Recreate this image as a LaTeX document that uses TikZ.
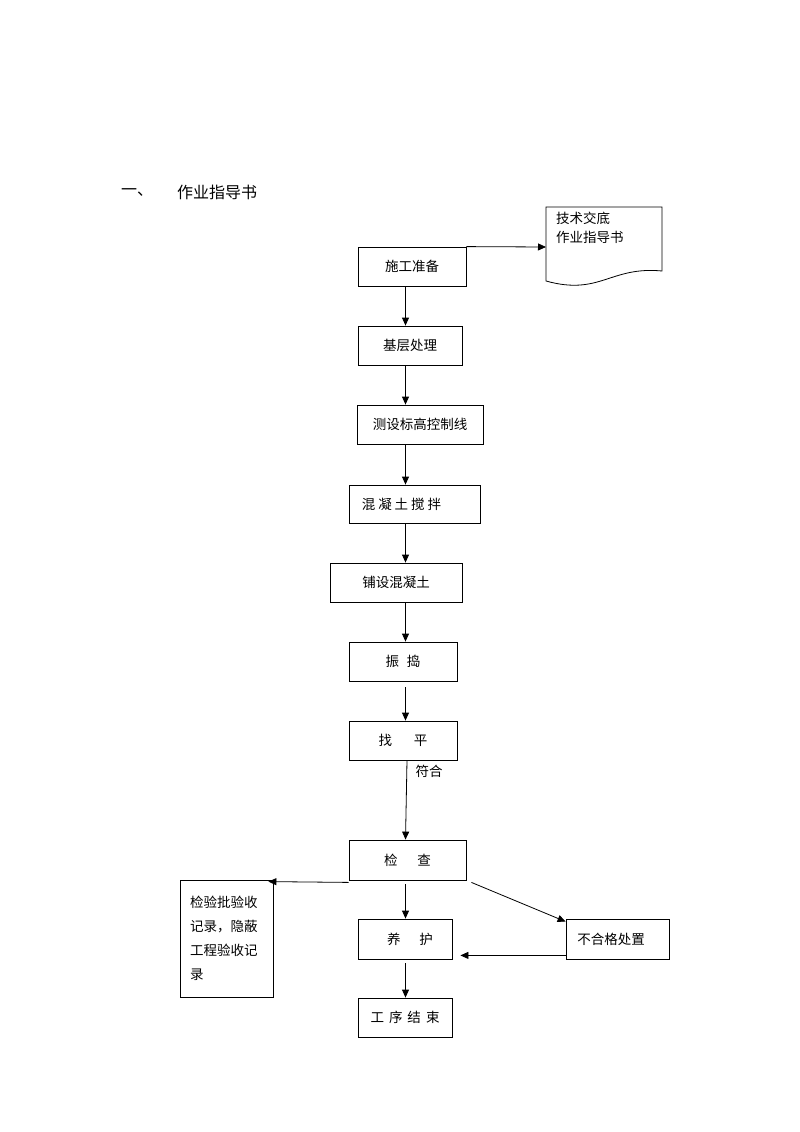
\documentclass[tikz,border=0pt]{standalone}
\usepackage{fontspec}
\newfontfamily\cjk{Noto Sans CJK SC}
\usetikzlibrary{arrows.meta}

\begin{document}
\begin{tikzpicture}[x=1pt,y=-1pt,
    box/.style={draw, line width=0.8pt, minimum height=39pt, inner sep=0pt,
        font=\cjk\fontsize{13.5}{16}\selectfont},
    flow/.style={-{Triangle[length=8pt,width=7pt]}, line width=0.8pt}]
    \useasboundingbox (0,0) rectangle (800,1132);

    % Heading
    \node[anchor=west, inner sep=0pt, font=\cjk\fontsize{16}{18}\selectfont] (num) at (121,192) {一、};
    \node[anchor=west, inner sep=0pt, font=\cjk\fontsize{16}{18}\selectfont] (title) at (177,192) {作业指导书};

    % Main sequence
    \node[box, minimum width=108pt] (prep)   at (412,266.5) {施工准备};
    \node[box, minimum width=104pt] (base)   at (410,345.5) {基层处理};
    \node[box, minimum width=126pt] (level)  at (420,424.5) {测设标高控制线};
    \node[box, minimum width=131pt, minimum height=38pt] (mix) at (414.5,504)
        {混\hspace{3pt}凝\hspace{3pt}土\hspace{3pt}搅\hspace{3pt}拌\hspace*{26pt}};
    \node[box, minimum width=132pt] (lay)    at (396,582.5) {铺设混凝土};
    \node[box, minimum width=108pt] (vib)    at (403,661.5) {振\hspace{8pt}捣};
    \node[box, minimum width=108pt] (smooth) at (403,740.5) {找\hspace{22pt}平};
    \node[box, minimum width=117pt, minimum height=40pt] (check) at (407.5,860) {检\hspace{20pt}查};
    \node[box, minimum width=94pt, minimum height=40pt] (cure) at (405,939) {\hspace*{10pt}养\hspace{19pt}护};
    \node[box, minimum width=94pt] (finish) at (405,1017.5) {工\hspace{5pt}序\hspace{5pt}结\hspace{5pt}束};

    % Side boxes
    \node[box, minimum width=103pt, minimum height=40pt] (reject) at (617.5,939) {不合格处置\hspace*{13pt}};
    \node[box, minimum width=93pt, minimum height=117pt, text width=73pt, align=left,
        inner xsep=10pt, font=\cjk\fontsize{13.5}{24}\selectfont] (record) at (226.5,938.5)
        {检验批验收\\记录，隐蔽\\工程验收记\\录};

    % Document shape
    \draw[line width=0.8pt] (546,207) -- (662,207) -- (662,271)
        .. controls (610,266) and (600,296) .. (546,281) -- cycle;
    \node[anchor=north west, align=left, inner sep=0pt,
        font=\cjk\fontsize{13.5}{19}\selectfont] (doc) at (556,212) {技术交底\\作业指导书};
    \coordinate (docin) at (546,247);

    \node[inner sep=0pt, font=\cjk\fontsize{13.5}{16}\selectfont] (ok) at (429,771) {符合};

    % Connectors
    \coordinate (axis) at (405.5,0);
    \draw[flow] (prep.north east) -- (docin);
    \draw[flow] (prep.south -| axis) -- (base.north -| axis);
    \draw[flow] (base.south -| axis) -- (level.north -| axis);
    \draw[flow] (level.south -| axis) -- (mix.north -| axis);
    \draw[flow] (mix.south -| axis) -- (lay.north -| axis);
    \draw[flow] (lay.south -| axis) -- (vib.north -| axis);
    \draw[flow] ([yshift=-6pt]vib.south -| axis) -- (smooth.north -| axis);
    \draw[flow] ([xshift=4pt]smooth.south) -- (check.north -| axis);
    \draw[flow] ([yshift=-4pt]check.south -| axis) -- (cure.north -| axis);
    \draw[flow] ([yshift=-4pt]cure.south -| axis) -- (finish.north -| axis);
    \draw[flow] ([yshift=-2pt]check.south west) -- ([xshift=-5pt,yshift=-2pt]record.north east);
    \draw[flow] ([xshift=5pt,yshift=-2pt]check.south east) -- ([yshift=-3pt]reject.north west);
    \draw[flow] ([yshift=4pt]reject.south west) -- ([xshift=8pt,yshift=4pt]cure.south east);
\end{tikzpicture}
\end{document}
